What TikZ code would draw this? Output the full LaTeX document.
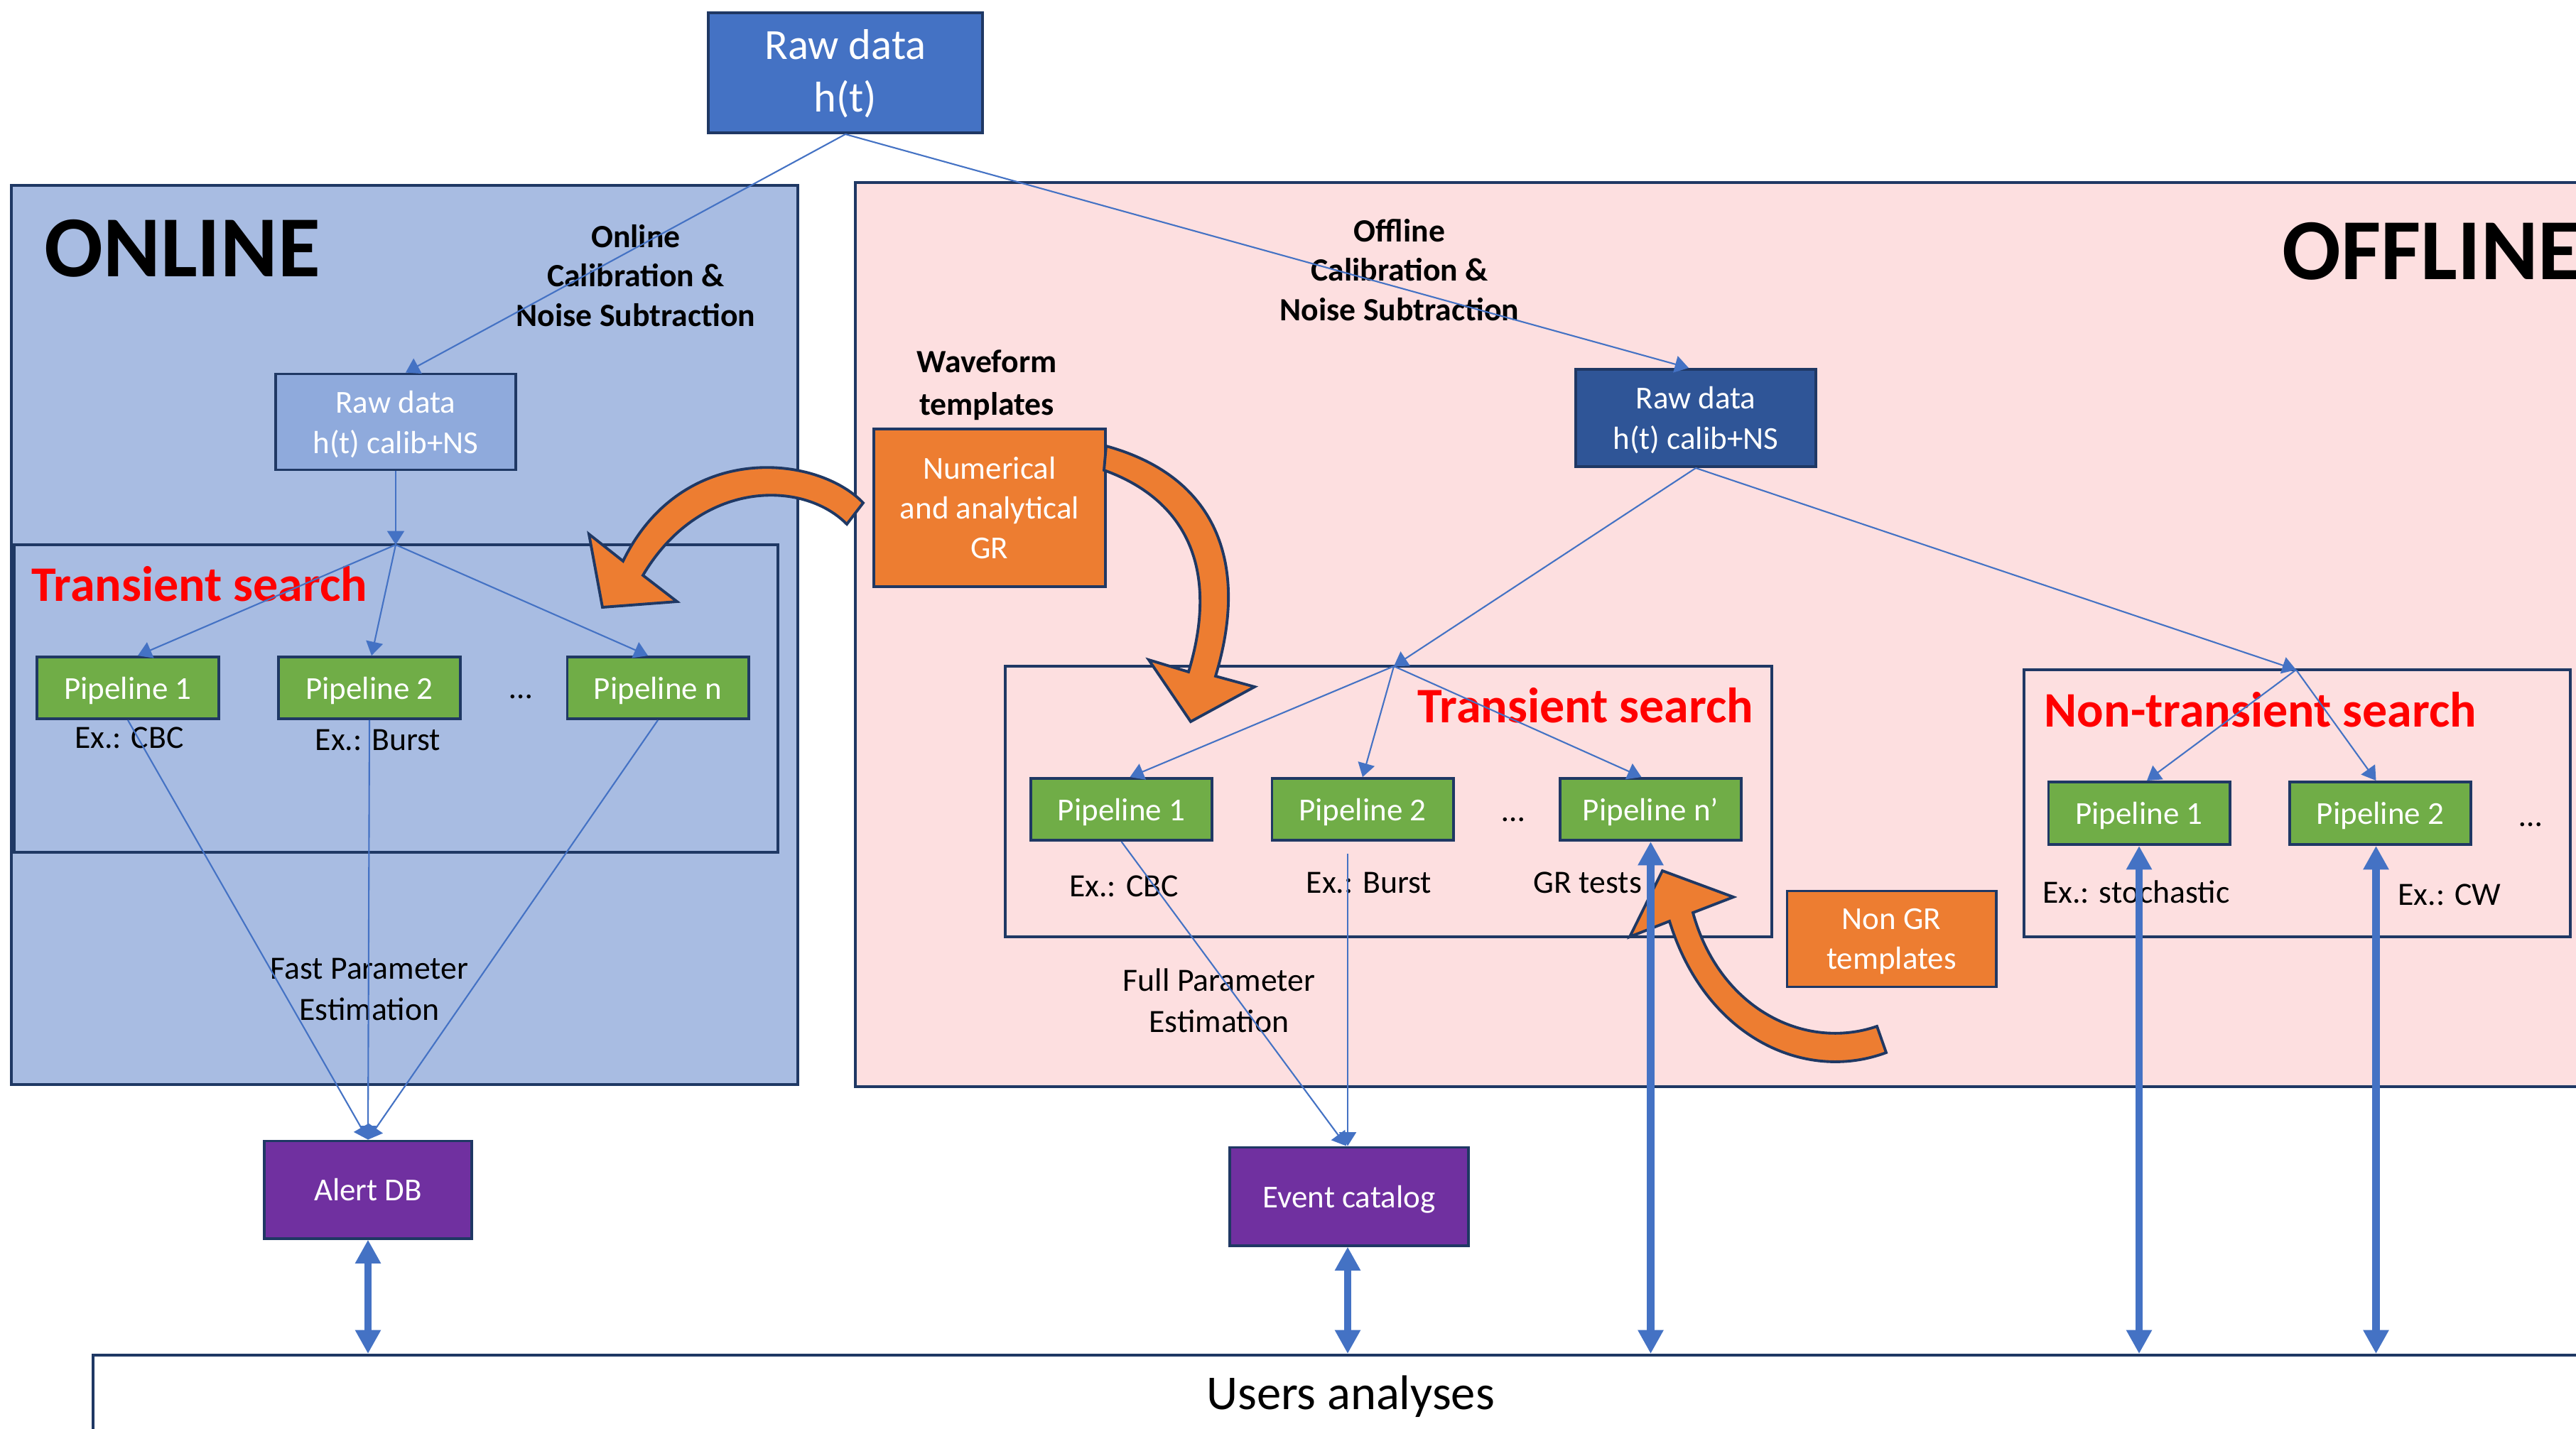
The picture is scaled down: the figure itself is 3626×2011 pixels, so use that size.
\documentclass[tikz,border=0pt]{standalone}
\usepackage{fontspec}
\setmainfont{Carlito}
\usetikzlibrary{arrows.meta}
\definecolor{navy}{HTML}{1F3864}
\definecolor{accblue}{HTML}{4472C4}
\definecolor{onbg}{HTML}{A8BCE2}
\definecolor{offbg}{HTML}{FDDFE0}
\definecolor{rawonc}{HTML}{8FAADC}
\definecolor{rawoffc}{HTML}{2F5597}
\definecolor{pipec}{HTML}{70AD47}
\definecolor{orng}{HTML}{ED7D31}
\definecolor{purp}{HTML}{7030A0}
\newcommand\fs[2]{\fontsize{#1}{#2}\selectfont}
\newcommand\nodp[2][0pt]{\raisebox{0pt}[\height][#1]{#2}}
\begin{document}
\begin{tikzpicture}[x=0.01cm,y=-0.01cm,
  bx/.style={draw=navy, line width=1.1pt, inner sep=0pt, text=white, align=center, font=\fs{12.8}{16.2}},
  pipebox/.style={bx, fill=pipec, minimum width=2.55cm, minimum height=0.87cm, text depth=0pt},
  lbl/.style={inner sep=0pt, align=center, font=\fs{13}{16.5}},
  blbl/.style={inner sep=0pt, align=center, font=\bfseries\fs{13}{15.7}},
  redlbl/.style={inner sep=0pt, text=red, font=\bfseries\fs{19.9}{22}, anchor=base west},
  biglbl/.style={inner sep=0pt, font=\bfseries\fs{34.8}{40}, anchor=base west},
  thinarr/.style={draw=accblue, line width=0.6pt, -{Triangle[length=5.5pt,width=6.8pt]}},
  thickarr/.style={draw=accblue, line width=2.9pt, {Triangle[length=9.5pt,width=9.7pt]}-{Triangle[length=9.5pt,width=9.7pt]}},
  bigarrow/.style={fill=orng, draw=navy, line width=1.1pt, line join=miter},
  region/.style={draw=navy, line width=1.1pt}
]
\path[use as bounding box] (0,0) rectangle (3626,2011);
\clip (0,0) rectangle (3626,2011);
\fill[white] (0,0) rectangle (3626,2011);

% regions
\draw[region, fill=onbg] (16,261) rectangle (1123,1527);
\draw[region, fill=offbg] (1204,257) rectangle (3700,1530);
\draw[region] (20,767) rectangle (1095,1200);
\draw[region] (1415,938) rectangle (2494,1319);
\draw[region] (2849,943) rectangle (3618,1319);
\node[draw=navy, line width=1.1pt, minimum width=35.68cm, minimum height=1.92cm, inner sep=0pt] (users) at (1916,2004) {};

% labels
\node[biglbl] (onl) at (62,389) {ONLINE};
\node[biglbl] (offl) at (3212,393) {OFFLINE};
\node[blbl] (oncal) at (895,388) {Online\\Calibration \&\\Noise Subtraction};
\node[blbl] (ofcal) at (1970,380) {Offline\\Calibration \&\\Noise Subtraction};
\node[blbl, font=\bfseries\fs{13}{17}] (wf) at (1389,542) {Waveform\\templates};
\node[redlbl] (ts1) at (44,846) {Transient search};
\node[redlbl] (ts2) at (1995,1017) {Transient search};
\node[redlbl] (nts) at (2877,1023) {Non-transient search};
\node[lbl, anchor=base] (dots1) at (733,983) {…};
\node[lbl, anchor=base] (dots2) at (2130,1156) {…};
\node[lbl, anchor=base] (dots3) at (3562,1163) {…};
\node[lbl] (ex1) at (182,1039) {Ex.: CBC};
\node[lbl] (ex2) at (532,1042) {Ex.: Burst};
\node[lbl] (ex3) at (1582,1248) {Ex.: CBC};
\node[lbl] (ex4) at (1927,1243) {Ex.: Burst};
\node[lbl] (ex5) at (2235,1243) {GR tests};
\node[lbl] (ex6) at (3007,1256) {Ex.: stochastic};
\node[lbl] (ex7) at (3448,1260) {Ex.: CW};
\node[lbl] (fpe) at (520,1393) {Fast Parameter\\Estimation};
\node[lbl] (fupe) at (1716,1409) {Full Parameter\\Estimation};
\node[inner sep=0pt, font=\fs{19.5}{23}] (ua) at (1901,1966) {Users analyses};

% boxes
\node[bx, fill=accblue, minimum width=3.86cm, minimum height=1.69cm, font=\fs{17.2}{21}] (raw) at (1190,102.5) {Raw data\\\nodp[1.5pt]{h(t)}};
\node[bx, fill=rawonc, minimum width=3.38cm, minimum height=1.35cm] (rawon) at (557,594) {Raw data\\\nodp{h(t) calib+NS}};
\node[bx, fill=rawoffc, minimum width=3.37cm, minimum height=1.37cm] (rawoff) at (2387,588.5) {Raw data\\\nodp{h(t) calib+NS}};
\node[bx, fill=orng, minimum width=3.26cm, minimum height=2.22cm, font=\fs{12.8}{15.9}] (num) at (1393,715) {Numerical\\and analytical\\GR};
\node[bx, fill=orng, minimum width=2.94cm, minimum height=1.35cm, font=\fs{12.8}{15.9}] (nongr) at (2662.5,1322) {Non GR\\\nodp{templates}};

\node[pipebox] (onp1) at (180,968.5) {Pipeline 1};
\node[pipebox] (onp2) at (520,968.5) {Pipeline 2};
\node[pipebox] (onpn) at (926,968.5) {Pipeline n};
\node[pipebox] (ofp1) at (1578.5,1139.5) {Pipeline 1};
\node[pipebox] (ofp2) at (1918,1139.5) {Pipeline 2};
\node[pipebox] (ofpn) at (2323.5,1139.5) {Pipeline n’};
\node[pipebox, minimum height=0.88cm] (ntp1) at (3011,1145) {Pipeline 1};
\node[pipebox, minimum height=0.88cm] (ntp2) at (3350.5,1145) {Pipeline 2};

\node[bx, fill=purp, minimum width=2.92cm, minimum height=1.37cm] (alert) at (518,1675) {Alert DB};
\node[bx, fill=purp, minimum width=3.36cm, minimum height=1.38cm, text depth=0pt] (cat) at (1899,1684.5) {Event catalog};

% hubs
\coordinate (onhub) at (557,767);
\coordinate (offhub) at (1962,938);
\coordinate (nthub) at (3232,943);
\coordinate (ofp2out) at (1897,1202);

% thin connectors
\draw[thinarr] (raw.south) -- ([xshift=0.14cm]rawon.north);
\draw[thinarr] (raw.south) -- ([xshift=-0.1cm]rawoff.north);
\draw[thinarr] (rawon.south) -- (onhub);
\draw[thinarr] (onhub) -- ([xshift=0.14cm]onp1.north);
\draw[thinarr] (onhub) -- ([xshift=0.03cm]onp2.north);
\draw[thinarr] (onhub) -- ([xshift=-0.14cm]onpn.north);
\draw[thinarr] (rawoff.south) -- (offhub);
\draw[thinarr] (rawoff.south) -- (nthub);
\draw[thinarr] (offhub) -- ([xshift=0.12cm]ofp1.north);
\draw[thinarr] (offhub) -- (ofp2.north);
\draw[thinarr] (offhub) -- ([xshift=-0.13cm]ofpn.north);
\draw[thinarr] (nthub) -- ([xshift=0.11cm]ntp1.north);
\draw[thinarr] (nthub) -- ([xshift=-0.06cm]ntp2.north);
\draw[thinarr] (onp1.south) -- (alert.north);
\draw[thinarr] (onp2.south) -- (alert.north);
\draw[thinarr] (onpn.south) -- (alert.north);
\draw[thinarr] (ofp1.south) -- ([xshift=-0.04cm]cat.north);
\draw[thinarr] (ofp2out) -- (ofp2out |- cat.north);

% orange block arrows
\draw[bigarrow] (1215,708) .. controls (1150,640) and (960,620) .. (877,790) -- (829,752) -- (848,855) -- (953,847) -- (905,810) .. controls (985,675) and (1130,675) .. (1192,738) -- cycle;
\draw[bigarrow] (1557,628) .. controls (1710,670) and (1760,790) .. (1711,952) -- (1766,967) -- (1676,1016) -- (1617,929) -- (1673,946) .. controls (1720,790) and (1660,700) .. (1554,662) -- cycle;
\draw[bigarrow] (2655,1482) .. controls (2540,1525) and (2400,1460) .. (2350,1297) -- (2294,1319) -- (2340,1226) -- (2440,1263) -- (2383,1285) .. controls (2420,1420) and (2540,1480) .. (2642,1445) -- cycle;

% thick double arrows
\draw[thickarr] (alert.south) -- (alert.south |- users.north);
\draw[thickarr] ([xshift=-0.02cm]cat.south) -- ([xshift=-0.02cm]cat.south |- users.north);
\draw[thickarr] (ofpn.south) -- (ofpn.south |- users.north);
\draw[thickarr] (ntp1.south) -- (ntp1.south |- users.north);
\draw[thickarr] ([xshift=-0.06cm]ntp2.south) -- ([xshift=-0.06cm]ntp2.south |- users.north);
\end{tikzpicture}
\end{document}
